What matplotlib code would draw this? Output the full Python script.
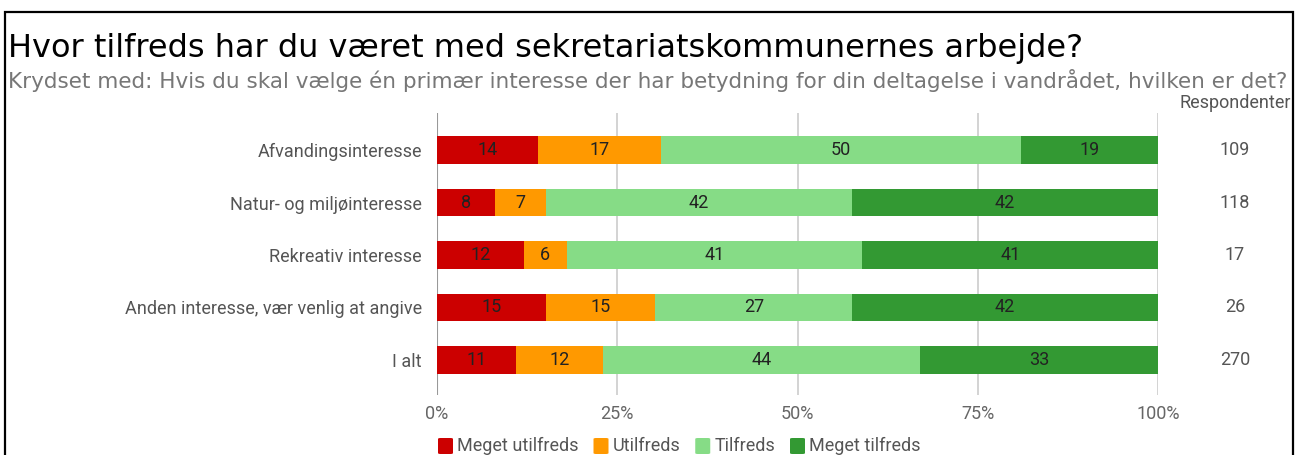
import matplotlib
matplotlib.use("Agg")
import matplotlib.pyplot as plt
from matplotlib.patches import Rectangle, FancyBboxPatch
from matplotlib.ticker import FixedLocator

# survey results, percent per satisfaction level
categories = ["Afvandingsinteresse", "Natur- og miljøinteresse", "Rekreativ interesse",
              "Anden interesse, vær venlig at angive", "I alt"]
levels = ["Meget utilfreds", "Utilfreds", "Tilfreds", "Meget tilfreds"]
meget_utilfreds = [14, 8, 12, 15, 11]
utilfreds = [17, 7, 6, 15, 12]
tilfreds = [50, 42, 41, 27, 44]
meget_tilfreds = [19, 42, 41, 42, 33]
respondenter = [109, 118, 17, 26, 270]
x_ticks = [0, 25, 50, 75, 100]

colors = ["#cc0000", "#ff9900", "#86dc86", "#339933"]
series = [meget_utilfreds, utilfreds, tilfreds, meget_tilfreds]

W, H = 1301, 455
fig = plt.figure(figsize=(W / 100, H / 100), dpi=100)
ax = fig.add_axes([437 / W, 1 - 395 / H, (1158 - 437) / W, (395 - 113) / H])

# stacked bars, each row scaled to its own total
totals = [sum(s[i] for s in series) for i in range(len(categories))]
lefts = [0.0] * len(categories)
for vals, col in zip(series, colors):
    widths = [v / t * 100 for v, t in zip(vals, totals)]
    ax.barh(range(len(categories)), widths, left=lefts, height=0.53, color=col, zorder=3)
    for i, (w, l, v) in enumerate(zip(widths, lefts, vals)):
        ax.text(l + w / 2, i, str(v), ha="center", va="center", fontsize=13,
                family="Roboto", color="#222222", zorder=4)
    lefts = [l + w for l, w in zip(lefts, widths)]

ax.set_xlim(0, 100)
ax.set_ylim(4.667, -0.705)
ax.set_yticks(range(len(categories)))
ax.set_yticklabels(categories, family="Roboto", fontsize=13, color="#555555")
ax.xaxis.set_major_locator(FixedLocator(x_ticks))
ax.set_xticklabels([f"{t}%" for t in x_ticks], family="Roboto", fontsize=13, color="#666666")
ax.tick_params(length=0, axis="both")
ax.tick_params(axis="y", pad=10.8)
ax.tick_params(axis="x", pad=7)
ax.grid(axis="x", color="#cccccc", linewidth=1.2, zorder=0)
for s in ax.spines.values():
    s.set_visible(False)
ax.axvline(0, color="#999999", linewidth=1.5, zorder=2)

# respondent counts on the right
for i, n in enumerate(respondenter):
    ax.annotate(str(n), xy=(1.0, i), xycoords=("axes fraction", "data"),
                xytext=(77, 0), textcoords="offset pixels", ha="center", va="center",
                family="Roboto", fontsize=13, color="#555555")
fig.text(1291 / W, 1 - 103 / H, "Respondenter", ha="right", va="center",
         family="Roboto", fontsize=13, color="#555555")

# titles
fig.text(8 / W, 1 - 48 / H, "Hvor tilfreds har du været med sekretariatskommunernes arbejde?",
         ha="left", va="center", fontsize=23, color="black", family="DejaVu Sans")
fig.text(8 / W, 1 - 80 / H,
         "Krydset med: Hvis du skal vælge én primær interesse der har betydning for din deltagelse i vandrådet, hvilken er det?",
         ha="left", va="center", fontsize=15.5, color="#777777", family="DejaVu Sans")

# legend
x = 437
y = 446
for lab, col in zip(levels, colors):
    fig.patches.append(FancyBboxPatch(((x + 1) / W, (H - y - 8) / H), 15 / W, 16 / H,
                                      boxstyle="round,pad=0,rounding_size=0.002",
                                      transform=fig.transFigure, facecolor=col, edgecolor="none"))
    t = fig.text((x + 20) / W, 1 - y / H, lab, ha="left", va="center",
                 family="Roboto", fontsize=13, color="#555555")
    fig.canvas.draw()
    bb = t.get_window_extent()
    x = bb.x1 + 14

# outer frame
fig.patches.append(Rectangle((5 / W, -0.1), (1293 - 5) / W, 1.1 - 12 / H,
                             transform=fig.transFigure, fill=False, edgecolor="black",
                             linewidth=1.6))

fig.savefig("out.png", dpi=100)
